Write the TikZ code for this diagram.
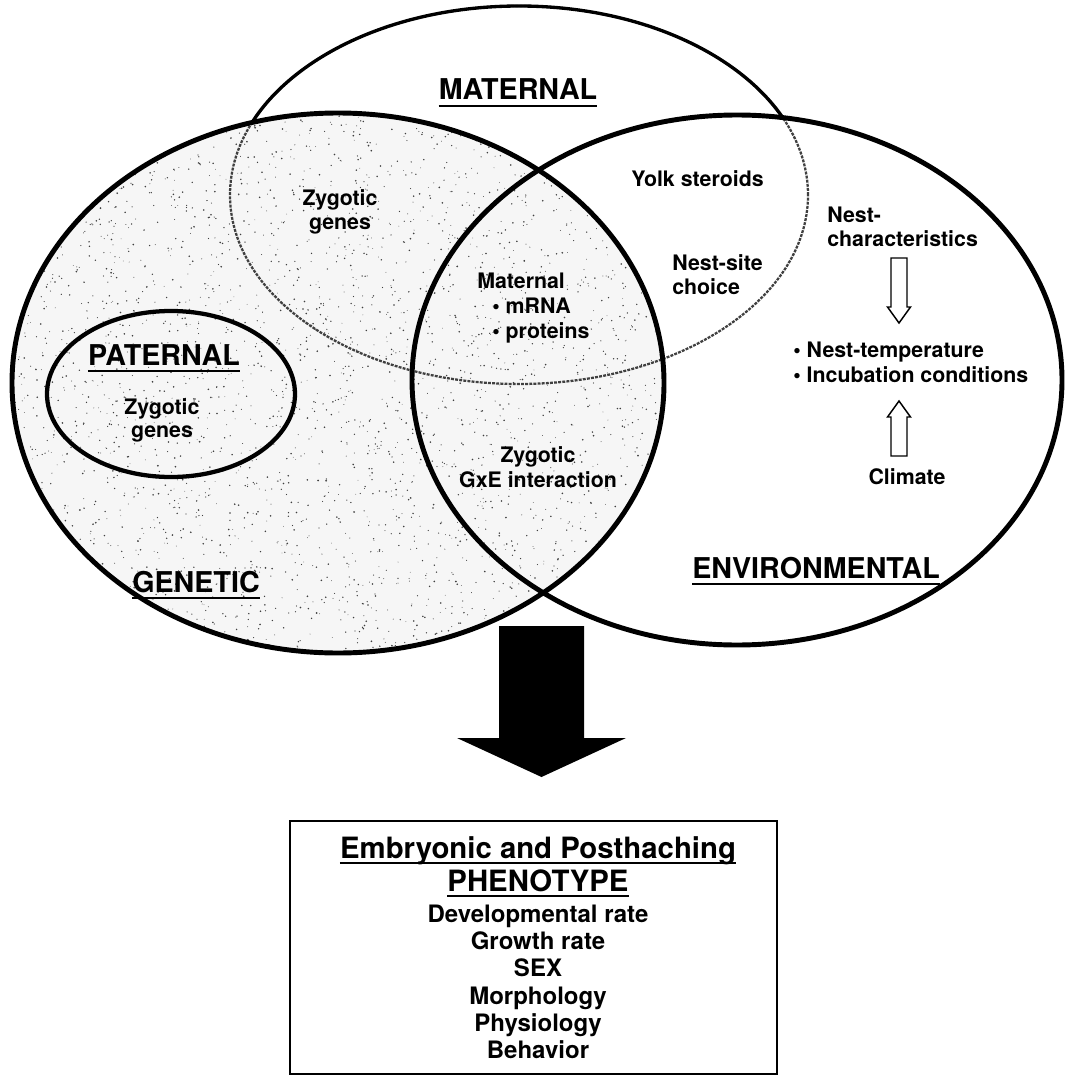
\documentclass[tikz,border=0pt]{standalone}
\usepackage{fontspec}
\setmainfont{TeX Gyre Heros}
\begin{document}
\begin{tikzpicture}[x=0.75pt,y=-0.75pt,
  lab/.style={font=\bfseries\fontsize{16}{18}\selectfont, inner sep=0pt, anchor=base},
  labw/.style={font=\bfseries\fontsize{16}{18}\selectfont, inner sep=0pt, anchor=base west},
  heading/.style={font=\bfseries\fontsize{21.5}{24}\selectfont, inner sep=0pt, anchor=base},
  boxhead/.style={font=\bfseries\fontsize{22}{24}\selectfont, inner sep=0pt, anchor=base},
  boxitem/.style={font=\bfseries\fontsize{18}{20}\selectfont, inner sep=0pt, anchor=base},
  venn/.style={line width=3.7pt},
  uline/.style={line width=2.2pt},
  hollow/.style={draw=black, line width=1.1pt, fill=white, line join=miter},
  speck/.style={fill=black!75}
]
\useasboundingbox (0,0) rectangle (1065,1077);
\fill[white] (0,0) rectangle (1065,1077);

% stippled genetic field
\begin{scope}
  \clip (338,383) ellipse [x radius=244.5pt, y radius=202.5pt];
  \fill[gray!7] (0,0) rectangle (1065,1077);
  \pgfmathsetseed{7}
  \foreach \k in {1,...,3200} {
    \pgfmathsetmacro{\px}{12+rnd*652}
    \pgfmathsetmacro{\py}{113+rnd*540}
    \pgfmathsetmacro{\pr}{0.28+0.42*rnd}
    \fill[speck] (\px,\py) circle (\pr pt);
  }
\end{scope}

% maternal outline: grainy inside the other fields
\draw[black!75, line width=1.7pt, dash pattern=on 2.2pt off 0.9pt] (519,195) ellipse [x radius=216.75pt, y radius=141.75pt];
% maternal outline: solid outside the other fields
\begin{scope}[even odd rule]
  \clip (0,0) rectangle (1065,1077) (338,383) ellipse [x radius=244.5pt, y radius=202.5pt];
  \begin{scope}[even odd rule]
    \clip (0,0) rectangle (1065,1077) (737,380) ellipse [x radius=243.75pt, y radius=198.75pt];
    \draw[line width=2.5pt] (519,195) ellipse [x radius=216.75pt, y radius=141.75pt];
  \end{scope}
\end{scope}

% genetic and environmental outlines
\draw[venn] (338,383) ellipse [x radius=244.5pt, y radius=202.5pt];
\draw[venn] (737,380) ellipse [x radius=243.75pt, y radius=198.75pt];
% paternal
\draw[line width=3.2pt] (171,394) ellipse [x radius=93pt, y radius=62.25pt];

% headings
\node[heading] (mat) at (518,100) {MATERNAL};
\draw[uline] ([yshift=-4.5pt]mat.base west) -- ([yshift=-4.5pt]mat.base east);
\node[heading] (pat) at (164,365) {PATERNAL};
\draw[uline] ([yshift=-4.5pt]pat.base west) -- ([yshift=-4.5pt]pat.base east);
\node[heading] (gen) at (196,592) {GENETIC};
\draw[uline] ([yshift=-4.5pt]gen.base west) -- ([yshift=-4.5pt]gen.base east);
\node[heading] (env) at (816,578) {ENVIRONMENTAL};
\draw[uline] ([yshift=-4.5pt]env.base west) -- ([yshift=-4.5pt]env.base east);

% labels
\node[lab] (zg1) at (340,205) {Zygotic};
\node[lab] (zg2) at (340,229) {genes};
\node[lab] (pz1) at (162,414) {Zygotic};
\node[lab] (pz2) at (162,437) {genes};
\node[labw] (m1) at (477,288) {Maternal};
\node[labw] (m2) at (492,313) {• mRNA};
\node[labw] (m3) at (492,338) {• proteins};
\node[lab] (gx1) at (538,462) {Zygotic};
\node[lab] (gx2) at (538,487) {GxE interaction};
\node[labw] (ys) at (631,186) {Yolk steroids};
\node[labw] (ns1) at (672,270) {Nest-site};
\node[labw] (ns2) at (672,294) {choice};
\node[labw] (nc1) at (827,222) {Nest-};
\node[labw] (nc2) at (827,246) {characteristics};
\node[labw] (nt) at (793,357) {• Nest-temperature};
\node[labw] (ic) at (793,382) {• Incubation conditions};
\node[lab] (cl) at (907,484) {Climate};

% hollow arrows
\draw[hollow] (891,258) -- (907,258) -- (907,307) -- (910.5,307) -- (899,323) -- (887.5,307) -- (891,307) -- cycle;
\draw[hollow] (891,456) -- (907,456) -- (907,417) -- (910.5,417) -- (899,401) -- (887.5,417) -- (891,417) -- cycle;

% big arrow
\fill (499,626) -- (584,626) -- (584,738) -- (626,738) -- (541.5,777) -- (457,738) -- (499,738) -- cycle;

% phenotype box
\draw[line width=1.3pt] (290,821) rectangle (777,1074);
\node[boxhead] (b1) at (538,858) {Embryonic and Posthaching};
\draw[line width=1.6pt] ([yshift=-4pt]b1.base west) -- ([yshift=-4pt]b1.base east);
\node[boxhead] (b2) at (538,891) {PHENOTYPE};
\draw[line width=1.6pt] ([yshift=-4pt]b2.base west) -- ([yshift=-4pt]b2.base east);
\node[boxitem] (i1) at (538,922) {Developmental rate};
\node[boxitem] (i2) at (538,949) {Growth rate};
\node[boxitem] (i3) at (538,976) {SEX};
\node[boxitem] (i4) at (538,1004) {Morphology};
\node[boxitem] (i5) at (538,1031) {Physiology};
\node[boxitem] (i6) at (538,1058) {Behavior};
\end{tikzpicture}
\end{document}
